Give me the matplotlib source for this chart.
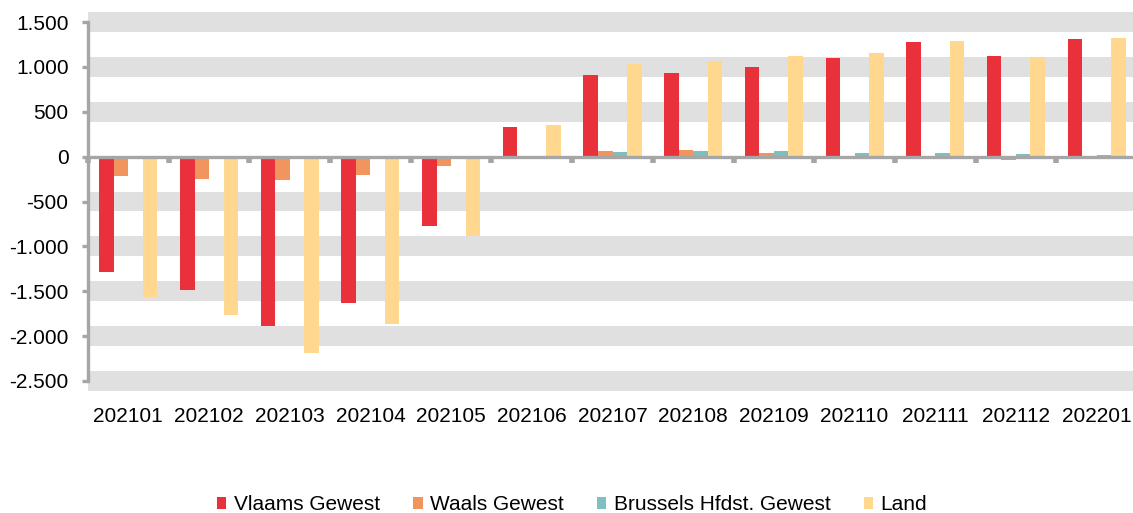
import numpy as np
import matplotlib
matplotlib.use("Agg")
import matplotlib.pyplot as plt
from matplotlib.patches import Patch

# === Dati ===
months = ["202101", "202102", "202103", "202104", "202105", "202106", "202107",
          "202108", "202109", "202110", "202111", "202112", "202201"]
vlaams = [-1285, -1490, -1890, -1630, -775, 330, 915, 934, 1004, 1100, 1276, 1120, 1309]
waals = [-220, -245, -255, -210, -100, 5, 60, 70, 40, 5, 10, -40, 10]
brussel = [-20, -15, -5, -5, -5, 10, 50, 60, 60, 45, 35, 30, 20]
land = [-1560, -1770, -2185, -1870, -885, 355, 1034, 1071, 1116, 1157, 1291, 1113, 1317]

series_names = ["Vlaams Gewest", "Waals Gewest", "Brussels Hfdst. Gewest", "Land"]
colors = ["#E8313A", "#F0955E", "#7FBFBF", "#FFD78F"]
y_ticks = [1500, 1000, 500, 0, -500, -1000, -1500, -2000, -2500]

plt.rcParams["font.family"] = ["Liberation Sans", "DejaVu Sans"]
axis_gray = "#A6A6A6"
band_gray = "#E0E0E0"

W, H = 1133, 513
fig = plt.figure(figsize=(W / 100, H / 100), dpi=100)
ax = fig.add_axes([88 / W, 1 - 381 / H, (1137 - 88) / W, (381 - 22) / H])

# Bande grigie attorno alle righe della griglia
for t in y_ticks:
    if t == 0:
        continue
    ax.axhspan(t - 111, t + 111, color=band_gray, zorder=0, lw=0, clip_on=False)

# Barre raggruppate
x = np.arange(len(months))
bw = 0.18
for i, (vals, c) in enumerate(zip([vlaams, waals, brussel, land], colors)):
    ax.bar(x + (i - 1.5) * bw, vals, width=bw, color=c, zorder=2, linewidth=0)

ax.set_xlim(-0.5, len(months) - 0.5)
ax.set_ylim(-2500, 1500)
ax.set_yticks(y_ticks)
ax.set_yticklabels([f"{t:,}".replace(",", ".") for t in y_ticks], fontsize=15)

for s in ["top", "right"]:
    ax.spines[s].set_visible(False)
ax.spines["left"].set_color(axis_gray)
ax.spines["left"].set_linewidth(2.4)
ax.spines["bottom"].set_position(("data", 0))
ax.spines["bottom"].set_color(axis_gray)
ax.spines["bottom"].set_linewidth(2.4)
ax.spines["bottom"].set_zorder(3)

ax.tick_params(axis="y", direction="out", length=4, width=2.4, color=axis_gray, pad=10)
# tacche sull'asse zero ai confini delle categorie
ax.set_xticks(np.arange(len(months) + 1) - 0.5)
ax.tick_params(axis="x", direction="out", length=4, width=4, color=axis_gray, labelbottom=False)

# etichette categorie in basso
sec = ax.secondary_xaxis(0)
sec.set_xticks(x)
sec.set_xticklabels(months, fontsize=15)
sec.tick_params(length=0, pad=19)
sec.spines["bottom"].set_visible(False)

handles = [Patch(facecolor=c, label=n) for n, c in zip(series_names, colors)]
fig.legend(handles=handles, loc="center", bbox_to_anchor=(572 / W, 1 - 505 / H),
           ncol=4, frameon=False, fontsize=15, handlelength=0.45, handleheight=0.45,
           handletextpad=0.35, columnspacing=1.6)

fig.savefig("out.png", dpi=100)
